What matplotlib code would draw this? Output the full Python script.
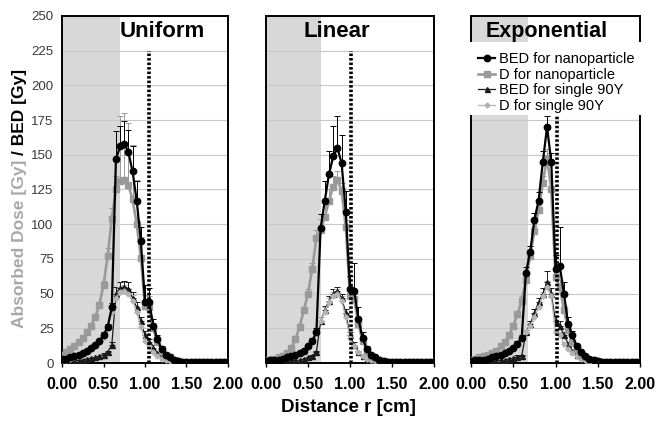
import numpy as np
import matplotlib
matplotlib.use("Agg")
import matplotlib.pyplot as plt
from matplotlib.patches import Rectangle

plt.rcParams['font.family'] = ['Liberation Sans', 'DejaVu Sans']

# radial distance of each sample [cm]
r_cm = [0.00, 0.05, 0.10, 0.15, 0.20, 0.25, 0.30, 0.35, 0.40, 0.45,
        0.50, 0.55, 0.60, 0.65, 0.70, 0.75, 0.80, 0.85, 0.90, 0.95,
        1.00, 1.05, 1.10, 1.15, 1.20, 1.25, 1.30, 1.35, 1.40, 1.45,
        1.50, 1.55, 1.60, 1.65, 1.70, 1.75, 1.80, 1.85, 1.90, 1.95, 2.00]

panel_titles = ["Uniform", "Linear", "Exponential"]
series_labels = ["BED for nanoparticle", "D for nanoparticle",
                 "BED for single 90Y", "D for single 90Y"]
x_ticks = [0.0, 0.5, 1.0, 1.5, 2.0]
x_tick_labels = ["0.00", "0.50", "1.00", "1.50", "2.00"]
y_ticks = [0, 25, 50, 75, 100, 125, 150, 175, 200, 225, 250]

# tumour extent (shaded) and vessel position (dotted) per distribution
tumour_edge = [0.70, 0.66, 0.67]
vessel_pos = [1.05, 1.01, 1.02]

# ---- Uniform ----
uni_bed_nano = [3, 3, 4, 5, 6, 7, 9, 11, 13, 16,
                20, 26, 40, 147, 156, 158, 152, 138, 117, 88,
                44, 44, 27, 17, 10, 6, 4, 2.5, 1.5, 1,
                1, 0.5, 0.5, 0.5, 0.5, 0.5, 0.5, 0.5, 0.5, 0.5, 0.5]
uni_d_nano = [6, 8, 10, 12, 15, 18, 22, 27, 33, 42,
              56, 77, 104, 125, 131, 132, 128, 118, 100, 76,
              41, 40, 25, 15, 9, 6, 4, 2.5, 1.5, 1,
              1, 0.5, 0.5, 0.5, 0.5, 0.5, 0.5, 0.5, 0.5, 0.5, 0.5]
uni_bed_single = [1, 1, 1, 1.5, 2, 2, 3, 3.5, 4, 5,
                  6, 8, 13, 50, 54, 55, 53, 47, 40, 30,
                  20, 15, 11, 7, 4, 3, 2, 1, 1, 0.5,
                  0.5, 0.5, 0.5, 0.5, 0.5, 0.5, 0.5, 0.5, 0.5, 0.5, 0.5]
uni_d_single = [2, 2.5, 3, 4, 5, 6, 8, 10, 12, 15,
                19, 25, 37, 47, 51, 52, 50, 45, 37, 26,
                16, 12, 8, 5, 3, 2, 1.5, 1, 0.5, 0.5,
                0.5, 0.5, 0.5, 0.5, 0.5, 0.5, 0.5, 0.5, 0.5, 0.5, 0.5]
uni_bed_nano_err = [0, 0, 0, 0, 0, 0, 0, 0, 0, 0,
                    2, 2, 3, 20, 15, 16, 16, 18, 14, 10,
                    12, 10, 5, 3, 2, 0, 0, 0, 0, 0,
                    0, 0, 0, 0, 0, 0, 0, 0, 0, 0, 0]
uni_d_nano_err = [0, 0, 0, 0, 0, 0, 0, 0, 0, 0,
                  3, 6, 8, 10, 47, 48, 45, 39, 32, 15,
                  8, 8, 4, 2, 0, 0, 0, 0, 0, 0,
                  0, 0, 0, 0, 0, 0, 0, 0, 0, 0, 0]
uni_bed_single_err = [0, 0, 0, 0, 0, 0, 0, 0, 0, 0,
                      1, 1, 2, 5, 4, 4, 5, 4, 4, 3,
                      3, 2, 2, 1, 0, 0, 0, 0, 0, 0,
                      0, 0, 0, 0, 0, 0, 0, 0, 0, 0, 0]
uni_d_single_err = [0, 0, 0, 0, 0, 0, 0, 0, 0, 0,
                    1, 2, 3, 4, 4, 4, 4, 4, 3, 3,
                    2, 2, 1, 1, 0, 0, 0, 0, 0, 0,
                    0, 0, 0, 0, 0, 0, 0, 0, 0, 0, 0]

# ---- Linear ----
lin_bed_nano = [1.5, 2, 2, 2.5, 3, 4, 5, 6, 7, 9,
                12, 16, 22, 97, 117, 136, 149, 155, 144, 109,
                53, 52, 32, 18, 10, 6, 4, 2.5, 1.5, 1,
                1, 0.5, 0.5, 0.5, 0.5, 0.5, 0.5, 0.5, 0.5, 0.5, 0.5]
lin_d_nano = [2, 2.5, 3, 4, 5, 7, 11, 17, 26, 38,
              50, 68, 90, 96, 105, 117, 127, 132, 124, 98,
              48, 46, 28, 16, 9, 5, 3, 2, 1.5, 1,
              1, 0.5, 0.5, 0.5, 0.5, 0.5, 0.5, 0.5, 0.5, 0.5, 0.5]
lin_bed_single = [0.5, 0.5, 0.5, 1, 1, 1, 1.5, 2, 2, 3,
                  4, 5, 8, 30, 38, 45, 50, 52, 47, 36,
                  20, 13, 8, 5, 3, 2, 1.5, 1, 0.5, 0.5,
                  0.5, 0.5, 0.5, 0.5, 0.5, 0.5, 0.5, 0.5, 0.5, 0.5, 0.5]
lin_d_single = [1.5, 2, 2, 2.5, 3, 4, 5, 6, 7, 9,
                12, 16, 22, 30, 37, 44, 48, 50, 45, 33,
                18, 12, 8, 5, 3, 2, 1.5, 1, 0.5, 0.5,
                0.5, 0.5, 0.5, 0.5, 0.5, 0.5, 0.5, 0.5, 0.5, 0.5, 0.5]
lin_bed_nano_err = [0, 0, 0, 0, 0, 0, 0, 0, 0, 0,
                    1, 2, 3, 10, 14, 17, 22, 23, 20, 15,
                    10, 20, 8, 4, 2, 0, 0, 0, 0, 0,
                    0, 0, 0, 0, 0, 0, 0, 0, 0, 0, 0]
lin_d_nano_err = [0, 0, 0, 0, 0, 0, 0, 0, 0, 0,
                  3, 4, 6, 8, 8, 8, 8, 6, 6, 5,
                  4, 4, 3, 2, 0, 0, 0, 0, 0, 0,
                  0, 0, 0, 0, 0, 0, 0, 0, 0, 0, 0]
lin_bed_single_err = [0, 0, 0, 0, 0, 0, 0, 0, 0, 0,
                      0, 1, 1, 3, 3, 3, 3, 3, 3, 3,
                      2, 2, 1, 1, 0, 0, 0, 0, 0, 0,
                      0, 0, 0, 0, 0, 0, 0, 0, 0, 0, 0]
lin_d_single_err = [0, 0, 0, 0, 0, 0, 0, 0, 0, 0,
                    1, 1, 2, 3, 3, 3, 3, 3, 3, 2,
                    2, 1, 1, 1, 0, 0, 0, 0, 0, 0,
                    0, 0, 0, 0, 0, 0, 0, 0, 0, 0, 0]

# ---- Exponential ----
exp_bed_nano = [1.5, 2, 2, 2.5, 3, 4, 5, 6, 7, 9,
                11, 14, 18, 65, 80, 103, 117, 145, 170, 145,
                68, 70, 50, 28, 20, 12, 8, 5, 3, 2,
                1.5, 1, 0.5, 0.5, 0.5, 0.5, 0.5, 0.5, 0.5, 0.5, 0.5]
exp_d_nano = [2, 3, 4, 5, 6, 7, 9, 12, 15, 20,
              27, 35, 45, 60, 77, 95, 110, 130, 148, 125,
              62, 55, 38, 24, 15, 10, 6, 4, 2.5, 2,
              1.5, 1, 0.5, 0.5, 0.5, 0.5, 0.5, 0.5, 0.5, 0.5, 0.5]
exp_bed_single = [0.5, 0.5, 0.5, 1, 1, 1, 1.5, 2, 2, 3,
                  3.5, 4.5, 5, 22, 28, 36, 44, 50, 58, 50,
                  30, 27, 20, 14, 9, 6, 4, 3, 2, 1.5,
                  1, 0.5, 0.5, 0.5, 0.5, 0.5, 0.5, 0.5, 0.5, 0.5, 0.5]
exp_d_single = [1, 1.5, 2, 2.5, 3, 4, 5, 6, 7, 9,
                11, 14, 18, 22, 27, 33, 40, 48, 55, 48,
                22, 20, 14, 10, 7, 5, 3, 2, 1.5, 1,
                0.5, 0.5, 0.5, 0.5, 0.5, 0.5, 0.5, 0.5, 0.5, 0.5, 0.5]
exp_bed_nano_err = [0, 0, 0, 0, 0, 0, 0, 0, 0, 0,
                    1, 2, 2, 4, 4, 5, 6, 8, 8, 6,
                    10, 28, 8, 5, 3, 0, 0, 0, 0, 0,
                    0, 0, 0, 0, 0, 0, 0, 0, 0, 0, 0]
exp_d_nano_err = [0, 0, 0, 0, 0, 0, 0, 0, 0, 0,
                  2, 2, 3, 3, 4, 4, 4, 5, 6, 6,
                  5, 5, 3, 2, 0, 0, 0, 0, 0, 0,
                  0, 0, 0, 0, 0, 0, 0, 0, 0, 0, 0]
exp_bed_single_err = [0, 0, 0, 0, 0, 0, 0, 0, 0, 0,
                      0, 1, 1, 2, 2, 3, 3, 4, 8, 4,
                      4, 3, 2, 1, 0, 0, 0, 0, 0, 0,
                      0, 0, 0, 0, 0, 0, 0, 0, 0, 0, 0]
exp_d_single_err = [0, 0, 0, 0, 0, 0, 0, 0, 0, 0,
                    0, 1, 1, 2, 2, 2, 3, 3, 4, 3,
                    2, 2, 1, 1, 0, 0, 0, 0, 0, 0,
                    0, 0, 0, 0, 0, 0, 0, 0, 0, 0, 0]

panels = [
    (uni_bed_nano, uni_d_nano, uni_bed_single, uni_d_single,
     uni_bed_nano_err, uni_d_nano_err, uni_bed_single_err, uni_d_single_err),
    (lin_bed_nano, lin_d_nano, lin_bed_single, lin_d_single,
     lin_bed_nano_err, lin_d_nano_err, lin_bed_single_err, lin_d_single_err),
    (exp_bed_nano, exp_d_nano, exp_bed_single, exp_d_single,
     exp_bed_nano_err, exp_d_nano_err, exp_bed_single_err, exp_d_single_err),
]

# line styles: (colour, line width, marker, marker size, zorder)
styles = [
    ("#000000", 1.6, "o", 4.6, 6),
    ("#9a9a9a", 1.9, "s", 3.8, 5),
    ("#1a1a1a", 0.9, "^", 3.6, 4),
    ("#b4b4b4", 0.9, "D", 2.6, 4),
]

W, H = 656, 422
fig = plt.figure(figsize=(W / 100, H / 100), dpi=100)

axes_px = [(62, 228), (266, 434), (471, 640)]
top_px, bottom_px = 16, 363

r = np.array(r_cm)
for k, (x0, x1) in enumerate(axes_px):
    ax = fig.add_axes([x0 / W, 1 - bottom_px / H, (x1 - x0) / W,
                       (bottom_px - top_px) / H])
    ax.set_xlim(0, 2.0)
    ax.set_ylim(0, 250)
    ax.axvspan(0, tumour_edge[k], color="#d8d8d8", zorder=0, lw=0)
    ax.set_yticks(y_ticks)
    ax.yaxis.grid(True, color="#c8c8c8", lw=0.8, zorder=0.5)
    ax.set_axisbelow(True)
    for sp in ax.spines.values():
        sp.set_linewidth(1.4)
        sp.set_color("black")

    data = panels[k]
    for s in range(4):
        vals = np.array(data[s], dtype=float)
        err = np.array(data[s + 4], dtype=float)
        col, lw, mk, ms, z = styles[s]
        m = err > 0
        if m.any():
            ax.errorbar(r[m], vals[m], yerr=[np.zeros(m.sum()), err[m]],
                        fmt="none", ecolor=col, elinewidth=0.7,
                        capsize=2.2, capthick=0.7, zorder=z - 0.5)
        ax.plot(r, vals, color=col, lw=lw, marker=mk, ms=ms,
                mec=col, mfc=col, zorder=z, label=series_labels[s])

    ax.vlines(vessel_pos[k], 0, 225, colors="black", lw=2.6,
              linestyles=[(0, (0.7, 0.55))], zorder=7)

    ax.set_xticks(x_ticks)
    ax.set_xticklabels(x_tick_labels, fontsize=11.5, fontweight="bold")
    ax.tick_params(axis="x", direction="out", length=3, width=1, pad=7,
                   colors="black")
    ax.tick_params(axis="y", length=0, pad=6)
    if k == 0:
        ax.set_yticklabels([str(v) for v in y_ticks], fontsize=9.5,
                           color="#3a3a3a")
    else:
        ax.set_yticklabels([])

    title_x = [1.21, 0.845, 0.90][k]
    title_fs = [16, 16, 15.5][k]
    ax.text(title_x, 239, panel_titles[k], ha="center", va="center",
            fontsize=title_fs, fontweight="bold", zorder=9)

    if k == 2:
        ax.add_patch(Rectangle((-0.03, 0.715), 1.06, 0.21,
                               transform=ax.transAxes, facecolor="white",
                               edgecolor="none", clip_on=False, zorder=8))
        leg = ax.legend(loc="upper left", bbox_to_anchor=(0.04, 0.895),
                        frameon=False, fontsize=10.5, handlelength=1.2,
                        handletextpad=0.25, labelspacing=0.1,
                        borderpad=0, borderaxespad=0)
        leg.set_zorder(10)

fig.text(348 / W, 1 - 407 / H, "Distance r [cm]", ha="center", va="center",
         fontsize=13.5, fontweight="bold")

# two-tone y-axis label
fig.canvas.draw()
rend = fig.canvas.get_renderer()
t1 = fig.text(20 / W, 1 - 328 / H, "Absorbed Dose [Gy]", rotation=90,
              ha="center", va="bottom", fontsize=12.5, fontweight="bold",
              color="#a8a8a8")
bb = t1.get_window_extent(rend)
fig.text(20 / W, (bb.y1 + 5) / fig.bbox.height, "/ BED [Gy]", rotation=90,
         ha="center", va="bottom", fontsize=12.5, fontweight="bold",
         color="black")

fig.savefig("out.png", dpi=100)
